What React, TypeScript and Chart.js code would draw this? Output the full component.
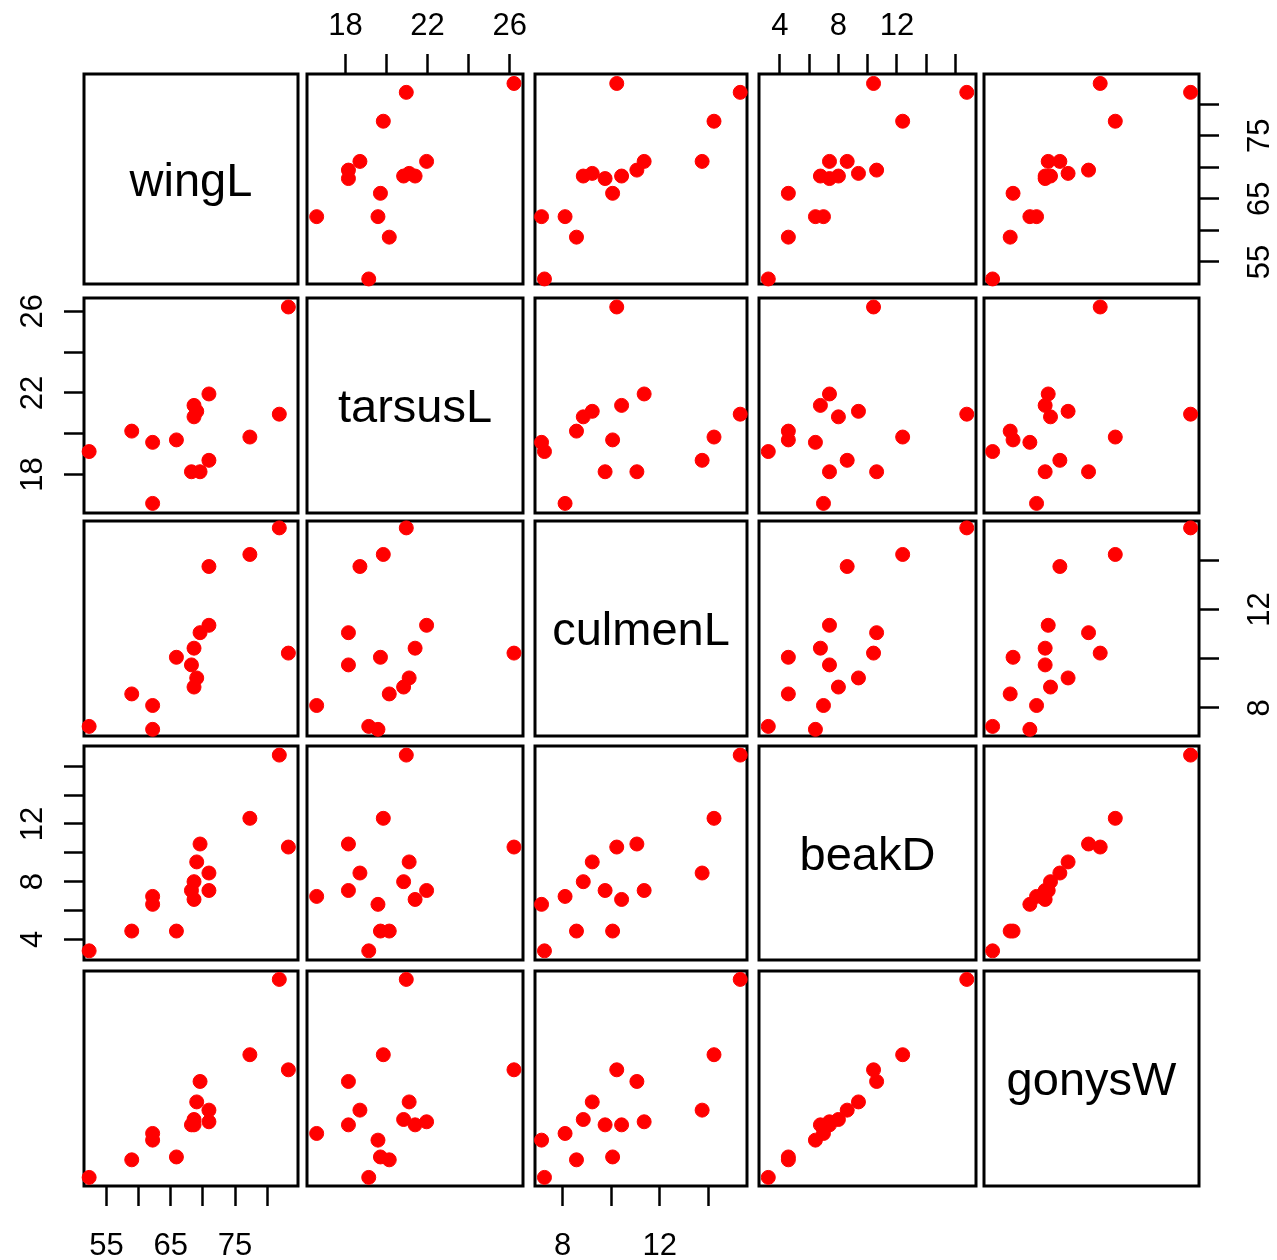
import { useEffect, useRef } from 'react';
import { Chart, registerables } from 'chart.js';

Chart.register(...registerables);

// Scatterplot matrix of five beak / wing measurements (15 birds)
const variables = ['wingL', 'tarsusL', 'culmenL', 'beakD', 'gonysW'];

const wingL = [83.3, 81.89, 77.31, 70.94, 69.56, 68.22, 70.94, 68.62, 69.04, 68.62, 65.88, 62.18, 62.18, 58.93, 52.3];
const tarsusL = [26.21, 20.96, 19.84, 18.7, 18.14, 18.14, 21.95, 20.83, 21.1, 21.39, 19.7, 16.59, 19.58, 20.13, 19.13];
const culmenL = [10.23, 15.32, 14.24, 13.75, 11.06, 9.75, 11.36, 8.85, 9.22, 10.43, 10.06, 8.1, 7.13, 8.57, 7.25];
const beakD = [10.4, 16.77, 12.39, 8.6, 10.61, 7.39, 7.39, 8.0, 9.37, 6.77, 4.58, 6.98, 6.43, 4.58, 3.21];
const gonysW = [9.74, 14.47, 10.53, 7.63, 9.13, 6.86, 7.02, 7.14, 8.06, 6.86, 5.18, 6.41, 6.06, 5.03, 4.11];

const series = [wingL, tarsusL, culmenL, beakD, gonysW];

// axis ranges (data range padded by about 4% on each side)
const axisMin = [51.5, 16.12, 6.86, 2.575, 3.66];
const axisMax = [84.8, 26.65, 15.6, 17.4, 14.91];

// tick marks and the subset that carries a label
const tickValues = [
  [55, 60, 65, 70, 75, 80],
  [18, 20, 22, 24, 26],
  [8, 10, 12, 14],
  [4, 6, 8, 10, 12, 14, 16],
  [4, 6, 8, 10, 12, 14],
];
const tickLabels = [
  [55, 65, 75],
  [18, 22, 26],
  [8, 12],
  [4, 8, 12],
  [4, 8, 12],
];

// panel boxes in page pixels
const COLS = [[84, 298], [307, 523], [535, 747], [759, 976], [984, 1199]];
const ROWS = [[74, 284], [298, 513], [521, 736], [746, 960], [971, 1186]];
const MARGIN = 90;
const FONT = '"Liberation Sans", Arial, Helvetica, sans-serif';
const LABEL_SIZE = 47;
const N = variables.length;

const boxPlugin = {
  id: 'panelBox',
  beforeDatasetsDraw(chart: any) {
    const { ctx, chartArea: a } = chart;
    ctx.save();
    ctx.lineWidth = 3;
    ctx.strokeStyle = '#000';
    ctx.strokeRect(a.left, a.top, a.right - a.left, a.bottom - a.top);
    ctx.restore();
  },
};

function makeAxis(v: number, pos: string, show: boolean, pad: number) {
  const vertical = pos === 'left' || pos === 'right';
  const opts: any = {
    type: 'linear',
    bounds: 'data',
    min: axisMin[v],
    max: axisMax[v],
    position: pos,
    display: show,
    afterBuildTicks: (s: any) => {
      s.ticks = tickValues[v].map((value) => ({ value }));
    },
    ticks: {
      autoSkip: false,
      minRotation: vertical ? 90 : 0,
      maxRotation: vertical ? 90 : 0,
      crossAlign: vertical ? 'center' : 'near',
      padding: pad,
      color: '#000',
      font: { family: FONT, size: 31, lineHeight: 1.2 },
      callback: (value: number) => (tickLabels[v].includes(value) ? String(value) : ''),
    },
    grid: {
      display: true,
      drawOnChartArea: false,
      drawTicks: true,
      tickLength: 20,
      tickWidth: 2.5,
      tickColor: '#000',
      color: '#000',
    },
    border: { display: false },
  };
  if (show) {
    opts.afterFit = (s: any) => {
      if (vertical) s.width = MARGIN;
      else s.height = MARGIN;
    };
  }
  return opts;
}

function Panel({ row, col }: { row: number; col: number }) {
  const ref = useRef<HTMLCanvasElement | null>(null);
  const [c0, c1] = COLS[col];
  const [r0, r1] = ROWS[row];
  const w = c1 - c0 + 2 * MARGIN;
  const h = r1 - r0 + 2 * MARGIN;

  useEffect(() => {
    const canvas = ref.current;
    if (!canvas) return;
    const diag = row === col;
    const hasTop = !diag && row === 0 && col % 2 === 1;
    const hasBottom = !diag && row === N - 1 && col % 2 === 0;
    const hasLeft = !diag && col === 0 && row % 2 === 1;
    const hasRight = !diag && col === N - 1 && row % 2 === 0;

    const xs = series[col];
    const ys = series[row];
    const datasets = diag
      ? []
      : [
          {
            data: xs.map((x, k) => ({ x, y: ys[k] })),
            backgroundColor: '#ff0000',
            borderColor: '#ff0000',
            pointRadius: 7,
            pointBorderWidth: 1,
            pointHoverRadius: 7,
            clip: false,
          },
        ];

    // variable name centred in the diagonal panel (cap height centred on the box middle)
    const labelPlugin = {
      id: 'diagLabel',
      afterDraw(chart: any) {
        if (!diag) return;
        const { ctx, chartArea: a } = chart;
        ctx.save();
        ctx.fillStyle = '#000';
        ctx.font = `${LABEL_SIZE}px ${FONT}`;
        ctx.textAlign = 'center';
        ctx.textBaseline = 'alphabetic';
        ctx.fillText(
          variables[row],
          (a.left + a.right) / 2,
          (a.top + a.bottom) / 2 + LABEL_SIZE * 0.36
        );
        ctx.restore();
      },
    };

    const chart = new Chart(canvas, {
      type: 'scatter',
      data: { datasets },
      options: {
        animation: false,
        responsive: false,
        events: [],
        layout: {
          padding: {
            top: hasTop ? 0 : MARGIN,
            bottom: hasBottom ? 0 : MARGIN,
            left: hasLeft ? 0 : MARGIN,
            right: hasRight ? 0 : MARGIN,
          },
        },
        plugins: { legend: { display: false }, tooltip: { enabled: false } },
        scales: {
          x: makeAxis(col, hasTop ? 'top' : 'bottom', hasTop || hasBottom, hasTop ? 9 : 22),
          y: makeAxis(row, hasLeft ? 'left' : 'right', hasLeft || hasRight, hasLeft ? 13 : 24),
        },
      } as any,
      plugins: [boxPlugin, labelPlugin],
    });
    return () => chart.destroy();
  }, [row, col]);

  return (
    <canvas
      ref={ref}
      width={w}
      height={h}
      style={{ position: 'absolute', left: c0 - MARGIN, top: r0 - MARGIN, width: w, height: h }}
    />
  );
}

export default function App() {
  const cells = [];
  for (let r = 0; r < N; r++) {
    for (let c = 0; c < N; c++) {
      cells.push(<Panel key={`${r}-${c}`} row={r} col={c} />);
    }
  }
  return (
    <div
      style={{
        position: 'absolute',
        left: 0,
        top: 0,
        width: 1277,
        height: 1260,
        overflow: 'hidden',
        background: '#fff',
      }}
    >
      {cells}
    </div>
  );
}
